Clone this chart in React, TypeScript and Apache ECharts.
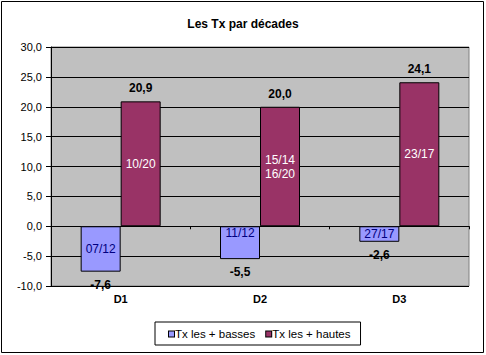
import React, { useEffect, useRef } from "react";
import * as echarts from "echarts";

const categories = ["D1", "D2", "D3"];
const lowValues = [-7.6, -5.5, -2.6];
const highValues = [20.9, 20.0, 24.1];
const lowDates = ["07/12", "11/12", "27/17"];
const highDates = ["10/20", "15/14\n16/20", "23/17"];
const seriesNames = ["Tx les + basses", "Tx les + hautes"];
const seriesColors = ["#9999ff", "#993366"];
const yMin = -10;
const yMax = 30;
const yStep = 5;

const FONT = 'Arial, "Liberation Sans", sans-serif';
const fmt = (v: number) => v.toFixed(1).replace(".", ",");

export default function App() {
  const ref = useRef<HTMLDivElement>(null);
  useEffect(() => {
    if (!ref.current) return;
    const chart = echarts.init(ref.current, undefined, { renderer: "svg" });
    const iconRich = (c: string) => ({
      width: 5,
      height: 5,
      backgroundColor: c,
      borderColor: "#000",
      borderWidth: 1,
      verticalAlign: "middle",
    });
    chart.setOption({
      animation: false,
      backgroundColor: "#ffffff",
      title: {
        text: "Les Tx par décades",
        left: "center",
        top: 13,
        textStyle: { fontFamily: FONT, fontSize: 12, fontWeight: "bold", color: "#000" },
      },
      graphic: [
        {
          type: "rect",
          shape: { x: 1.5, y: 1.5, width: 482, height: 351 },
          style: { fill: "none", stroke: "#000", lineWidth: 1 },
          silent: true,
        },
      ],
      legend: {
        data: seriesNames,
        left: 155,
        top: 322,
        orient: "horizontal",
        icon: "none",
        itemWidth: 0,
        itemHeight: 7,
        itemGap: 6,
        padding: [6, 10, 5, 9],
        borderColor: "#000",
        borderWidth: 1,
        backgroundColor: "#fff",
        formatter: (name: string) =>
          name === seriesNames[0] ? `{a|}{t|${name}}` : `{b|}{t|${name}}`,
        textStyle: {
          fontFamily: FONT,
          fontSize: 11.5,
          color: "#000",
          rich: {
            a: iconRich(seriesColors[0]),
            b: iconRich(seriesColors[1]),
            t: {
              fontFamily: FONT,
              fontSize: 11.5,
              color: "#000",
              padding: [0, 0, 0, 1],
              verticalAlign: "middle",
            },
          },
        },
      },
      grid: {
        left: 51,
        right: 17,
        top: 47,
        bottom: 69,
        show: true,
        backgroundColor: "#c0c0c0",
        borderColor: "#808080",
        borderWidth: 1,
        containLabel: false,
      },
      xAxis: [
        {
          type: "category",
          data: categories,
          position: "bottom",
          axisLine: { show: false, onZero: false },
          axisTick: { show: false },
          axisLabel: {
            fontFamily: FONT,
            fontSize: 11,
            fontWeight: "bold",
            color: "#000",
            margin: 7,
          },
        },
        {
          type: "category",
          data: categories,
          position: "bottom",
          axisLine: { show: true, onZero: true, lineStyle: { color: "#000", width: 1 } },
          axisTick: { show: true, length: 3, lineStyle: { color: "#000" } },
          axisLabel: { show: false },
        },
      ],
      yAxis: {
        type: "value",
        min: yMin,
        max: yMax,
        interval: yStep,
        axisLine: { show: true, lineStyle: { color: "#000", width: 1 } },
        axisTick: { show: true, length: 5, lineStyle: { color: "#000" } },
        splitLine: { show: true, lineStyle: { color: "#000", width: 1 } },
        axisLabel: {
          fontFamily: FONT,
          fontSize: 11,
          color: "#000",
          margin: 9,
          formatter: (v: number) => fmt(v),
        },
      },
      series: [
        {
          name: seriesNames[0],
          type: "bar",
          xAxisIndex: 0,
          barWidth: 40,
          barGap: "0%",
          data: lowValues.map((v, i) => ({
            value: v,
            label: i === 1 ? { position: "insideTop", distance: 1 } : undefined,
          })),
          itemStyle: { color: seriesColors[0], borderColor: "#000", borderWidth: 1 },
          label: {
            show: true,
            position: "inside",
            fontFamily: FONT,
            fontSize: 12,
            color: "#000080",
            formatter: (p: any) => lowDates[p.dataIndex],
          },
        },
        {
          name: seriesNames[1],
          type: "bar",
          xAxisIndex: 0,
          barWidth: 40,
          barGap: "0%",
          data: highValues,
          itemStyle: { color: seriesColors[1], borderColor: "#000", borderWidth: 1 },
          label: {
            show: true,
            position: "inside",
            fontFamily: FONT,
            fontSize: 12,
            lineHeight: 14,
            color: "#fff",
            formatter: (p: any) => highDates[p.dataIndex],
          },
        },
        {
          name: "lowValueLabels",
          type: "bar",
          xAxisIndex: 1,
          barWidth: 40,
          barGap: "0%",
          silent: true,
          data: lowValues,
          itemStyle: { color: "rgba(0,0,0,0)", borderWidth: 0 },
          label: {
            show: true,
            position: "bottom",
            distance: 7,
            fontFamily: FONT,
            fontSize: 12,
            fontWeight: "bold",
            color: "#000",
            formatter: (p: any) => fmt(p.value),
          },
        },
        {
          name: "highValueLabels",
          type: "bar",
          xAxisIndex: 1,
          barWidth: 40,
          barGap: "0%",
          silent: true,
          data: highValues,
          itemStyle: { color: "rgba(0,0,0,0)", borderWidth: 0 },
          label: {
            show: true,
            position: "top",
            distance: 7,
            fontFamily: FONT,
            fontSize: 12,
            fontWeight: "bold",
            color: "#000",
            formatter: (p: any) => fmt(p.value),
          },
        },
      ],
    });
    return () => chart.dispose();
  }, []);
  return (
    <div
      ref={ref}
      style={{ position: "absolute", left: 0, top: 0, width: 486, height: 355 }}
    />
  );
}
